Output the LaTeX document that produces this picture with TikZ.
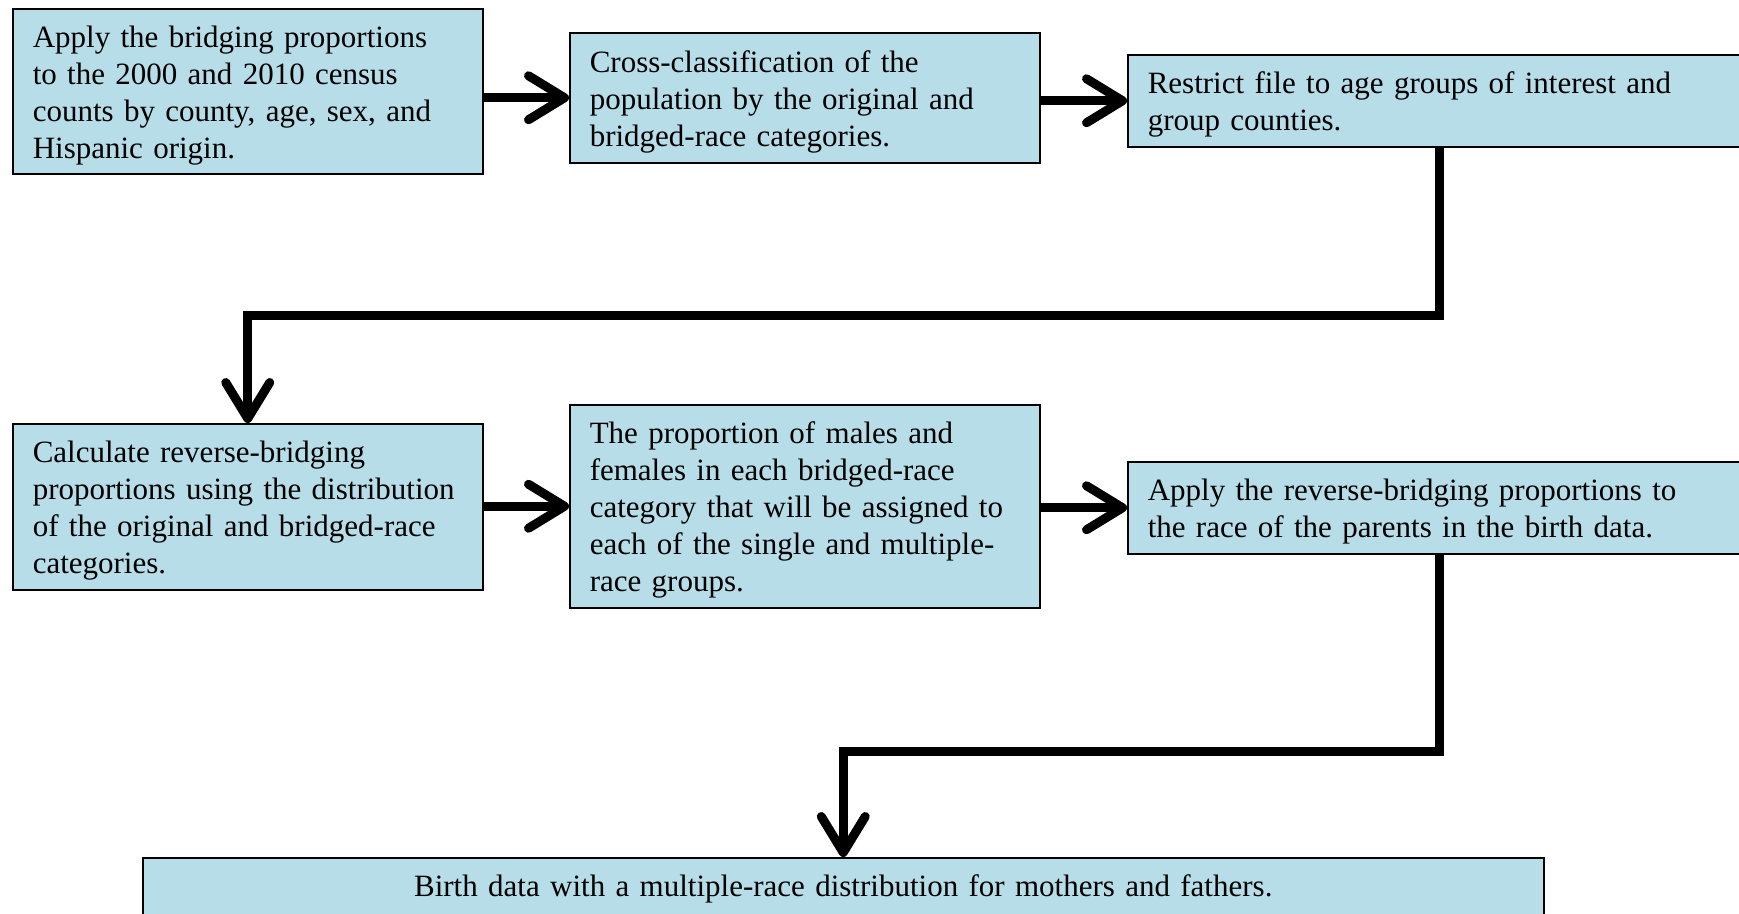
\documentclass[tikz,border=0pt]{standalone}
\usepackage{fontspec}
\setmainfont{Liberation Serif}
\usetikzlibrary{arrows.meta}
\definecolor{boxblue}{HTML}{B7DDE8}
\begin{document}
\begin{tikzpicture}[x=1pt,y=-1pt,
  box/.style={draw=black, line width=1.5pt, fill=boxblue, anchor=north west,
    inner xsep=20pt, inner ysep=4pt, align=left, font=\fontsize{31}{37}\selectfont,
    execute at begin node={\hyphenpenalty=10000\relax}},
  lowtext/.style={execute at begin node={\hyphenpenalty=10000\relax\rule{0pt}{30pt}}},
  flow/.style={line width=9pt, line join=miter,
    -{Straight Barb[length=36pt,width=44pt,line width=9pt,round]}}
]
\useasboundingbox (0,0) rectangle (1739,913);
\fill[white] (0,0) rectangle (1739,913);
\begin{scope}
\clip (0,0) rectangle (1739,913);
\node[box, lowtext, text width=430pt, minimum height=165pt] (b1) at (12,8)
  {Apply the bridging proportions\\to the 2000 and 2010 census\\counts by county, age, sex, and\\Hispanic origin.};
\node[box, lowtext, text width=430pt, minimum height=130pt] (b2) at (569,32)
  {Cross-classification of the\\population by the original and\\bridged-race categories.};
\node[box, lowtext, text width=583pt, minimum height=92pt] (b3) at (1127,54)
  {Restrict file to age groups of interest and\\group counties.};
\node[box, lowtext, text width=430pt, minimum height=166pt] (b4) at (12,423)
  {Calculate reverse-bridging\\proportions using the distribution\\of the original and bridged-race\\categories.};
\node[box, lowtext, text width=430pt, minimum height=203pt] (b5) at (569,404)
  {The proportion of males and\\females in each bridged-race\\category that will be assigned to\\each of the single and multiple-\\race groups.};
\node[box, lowtext, text width=583pt, minimum height=92pt] (b6) at (1127,461)
  {Apply the reverse-bridging proportions to\\the race of the parents in the birth data.};
\node[box, align=center, text width=1361pt, minimum height=63pt] (b7) at (142,857)
  {Birth data with a multiple-race distribution for mothers and fathers.};
\coordinate (c1) at (0,315);
\coordinate (c2) at (0,751);
\draw[flow] (b1.east |- b2.west) -- (b2.west);
\draw[flow] (b2.east |- b3.west) -- (b3.west);
\draw[flow] (b3.south) -- (b3.south |- c1) -| (b4.north);
\draw[flow] (b4.east |- b5.west) -- (b5.west);
\draw[flow] (b5.east |- b6.west) -- (b6.west);
\draw[flow] (b6.south) -- (b6.south |- c2) -| (b7.north);
\end{scope}
\end{tikzpicture}
\end{document}
